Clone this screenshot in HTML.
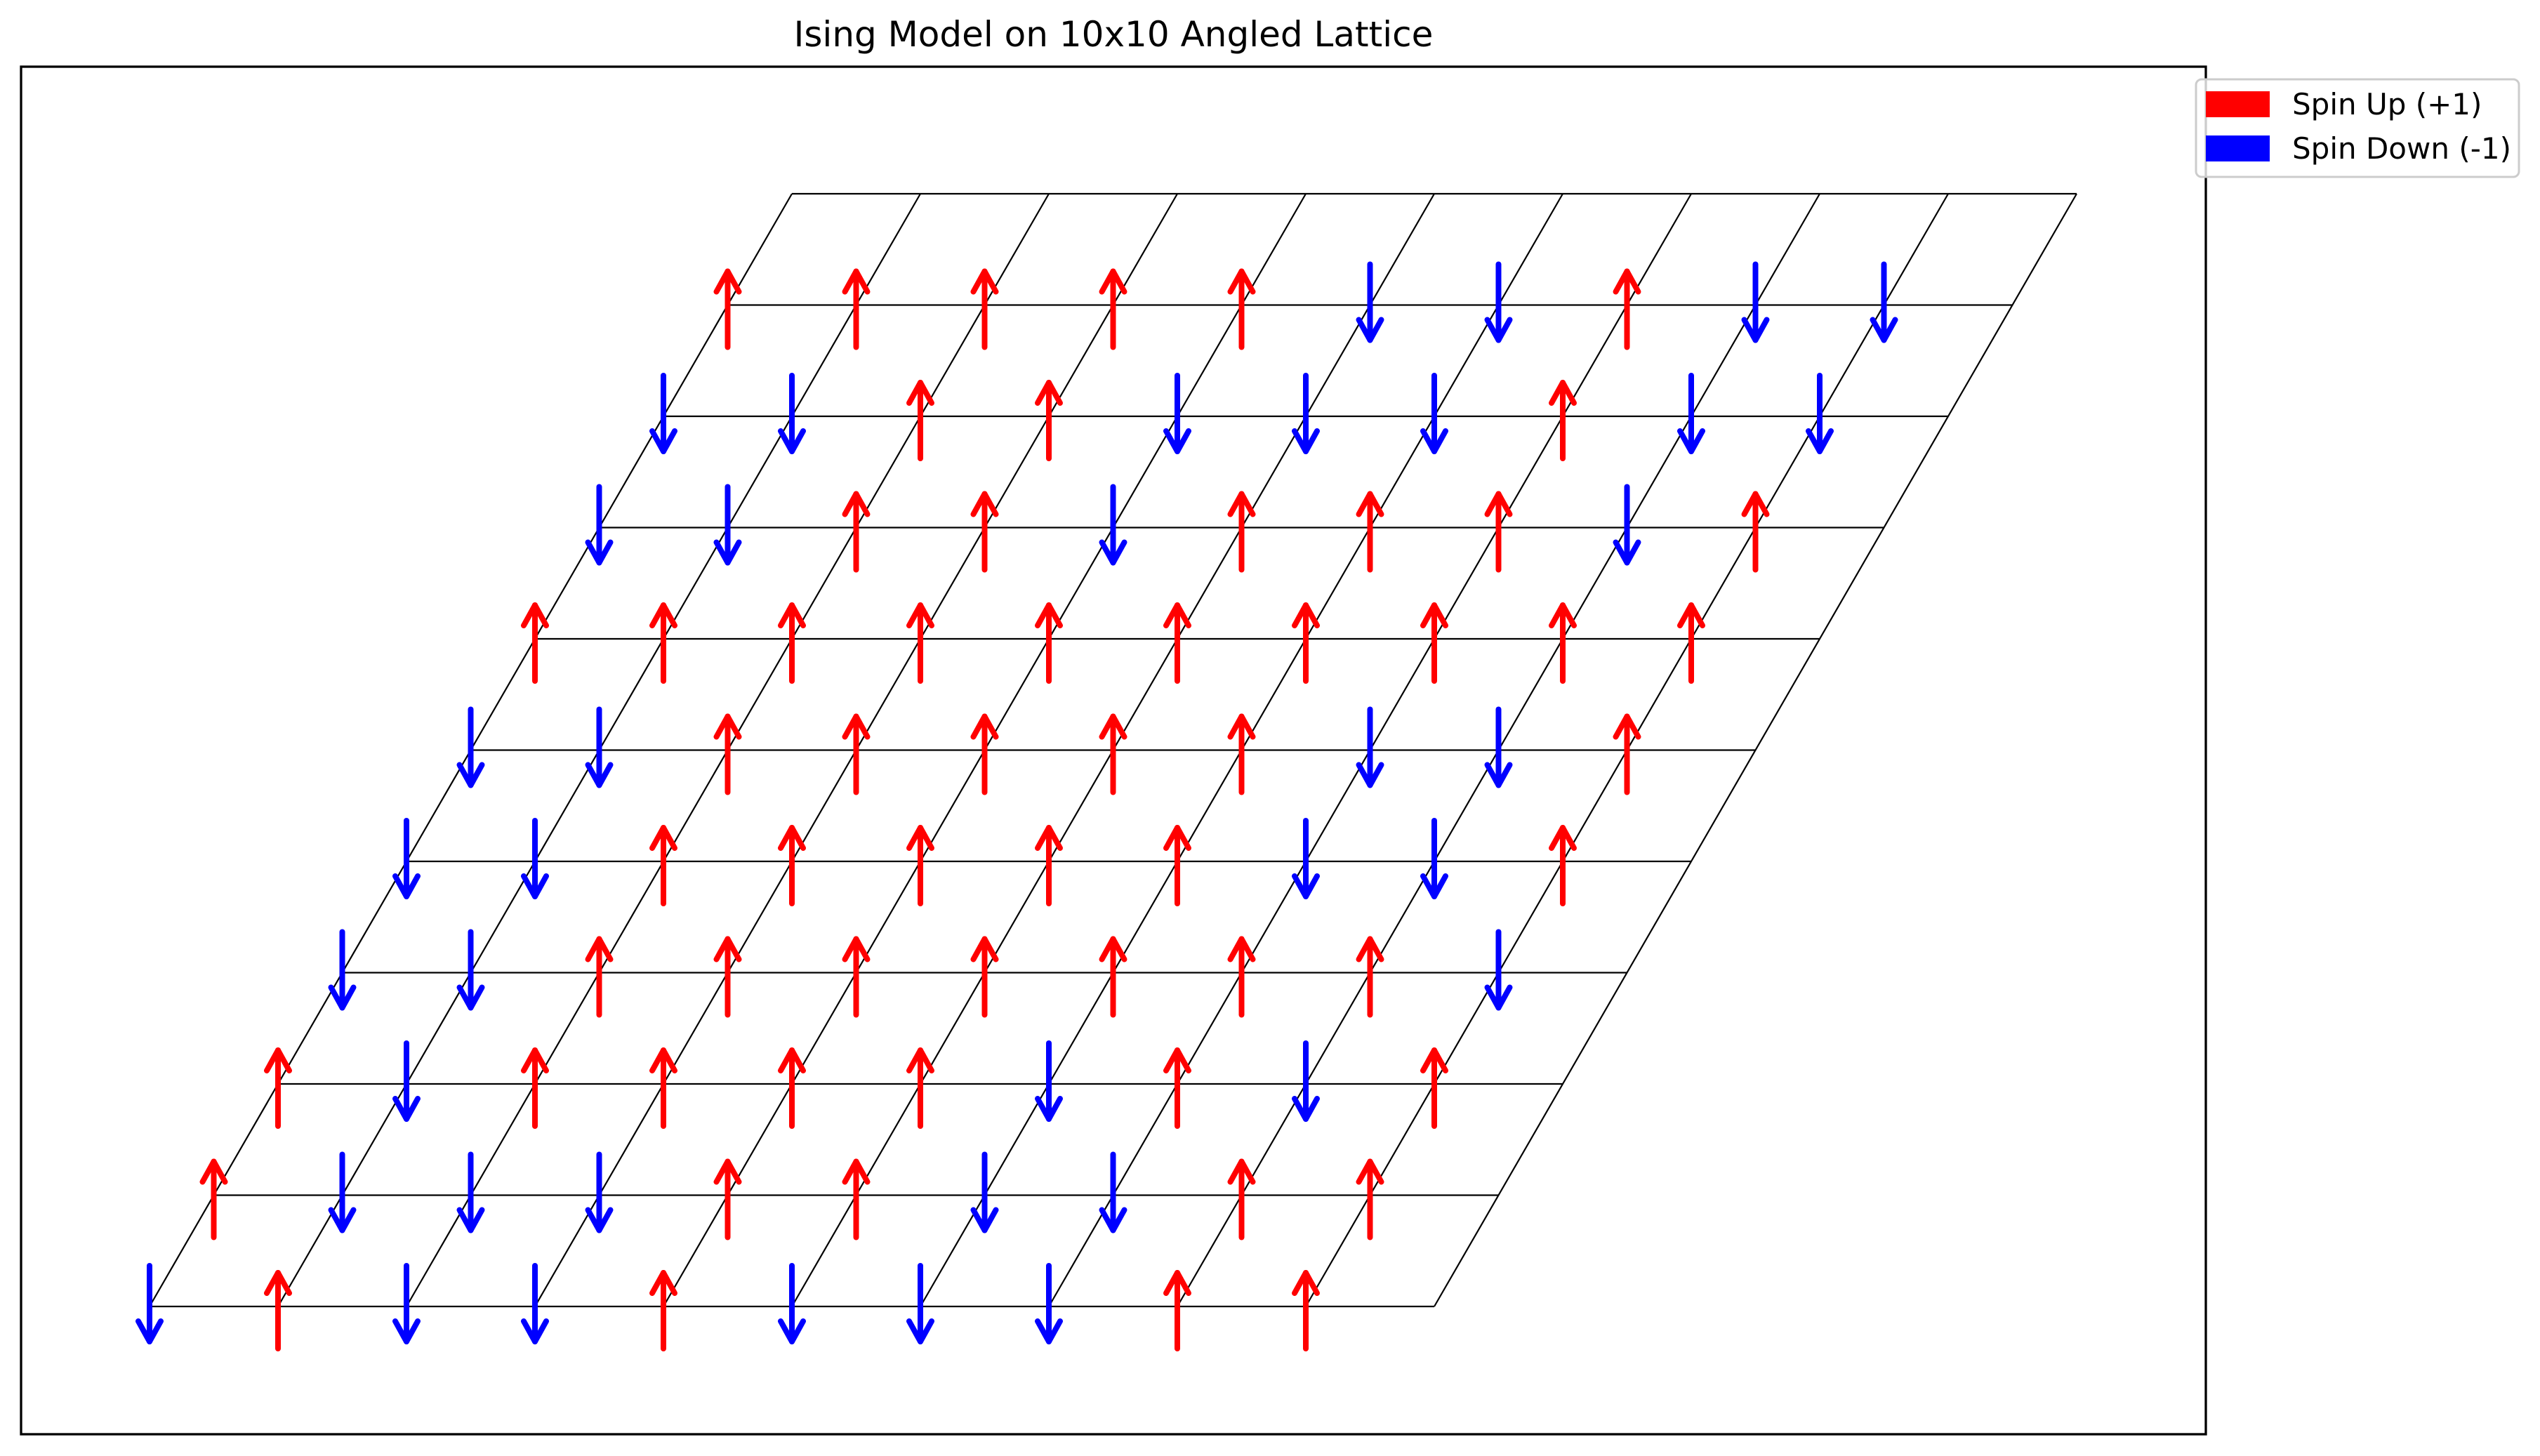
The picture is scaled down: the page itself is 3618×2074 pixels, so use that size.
<!DOCTYPE html>
<html><head><meta charset="utf-8"><style>html,body{margin:0;padding:0;background:#fff}svg{display:block}</style></head>
<body>
<svg id="chart" xmlns="http://www.w3.org/2000/svg" width="3618" height="2074" viewBox="0 0 3618 2074" font-family="'DejaVu Sans','Liberation Sans',sans-serif">
<rect width="3618" height="2074" fill="#fff"/>
<text x="1586" y="66" font-size="50" text-anchor="middle">Ising Model on 10x10 Angled Lattice</text>
<rect x="30" y="95" width="3112" height="1948" fill="none" stroke="#000" stroke-width="3.3"/>
<g id="lattice"></g>
<g id="arrows"></g>
<g>
<rect x="3128" y="113" width="460" height="139" rx="8" fill="#fff" fill-opacity="0.8" stroke="#ccc" stroke-width="3"/>
<rect x="3142" y="130" width="91" height="37" fill="#f00"/>
<text x="3265" y="163" font-size="42">Spin Up (+1)</text>
<rect x="3142" y="193" width="91" height="37" fill="#00f"/>
<text x="3265" y="226" font-size="42">Spin Down (-1)</text>
</g>
</svg>
<script>
// rows from bottom (j=0) to top (j=9), columns i=0..9; 1 = up, -1 = down
const spinRow0 = [-1,1,-1,-1,1,-1,-1,-1,1,1];
const spinRow1 = [1,-1,-1,-1,1,1,-1,-1,1,1];
const spinRow2 = [1,-1,1,1,1,1,-1,1,-1,1];
const spinRow3 = [-1,-1,1,1,1,1,1,1,1,-1];
const spinRow4 = [-1,-1,1,1,1,1,1,-1,-1,1];
const spinRow5 = [-1,-1,1,1,1,1,1,-1,-1,1];
const spinRow6 = [1,1,1,1,1,1,1,1,1,1];
const spinRow7 = [-1,-1,1,1,-1,1,1,1,-1,1];
const spinRow8 = [-1,-1,1,1,-1,-1,-1,1,-1,-1];
const spinRow9 = [1,1,1,1,1,-1,-1,1,-1,-1];
const spins = [spinRow0,spinRow1,spinRow2,spinRow3,spinRow4,spinRow5,spinRow6,spinRow7,spinRow8,spinRow9];
const N = 10;
const NS = 'http://www.w3.org/2000/svg';
function px(i,j){return 213 + 183*i + 91.5*j;}
function py(j){return 1861 - 158.5*j;}
const lat = document.getElementById('lattice');
function line(x1,y1,x2,y2,name){
  const l = document.createElementNS(NS,'line');
  l.setAttribute('x1',x1);l.setAttribute('y1',y1);l.setAttribute('x2',x2);l.setAttribute('y2',y2);
  l.setAttribute('stroke','#000');l.setAttribute('stroke-width','2.2');
  
  
  lat.appendChild(l);
}
for(let j=0;j<=N;j++) line(px(0,j),py(j),px(N,j),py(j),'lattice-row-line');
for(let i=0;i<=N;i++) line(px(i,0),py(0),px(i,N),py(N),'lattice-column-line');
const ag = document.getElementById('arrows');
for(let j=0;j<N;j++){
  for(let i=0;i<N;i++){
    const s = spins[j][i];
    const x = px(i,j), y = py(j);
    const tail = y + (s>0 ? 60 : -58);
    const tip = tail - s*108;
    const col = s>0 ? '#f00' : '#00f';
    const g = document.createElementNS(NS,'g');
    
    
    const shaft = document.createElementNS(NS,'path');
    shaft.setAttribute('d',`M${x},${tail} L${x},${tip}`);
    const head = document.createElementNS(NS,'path');
    head.setAttribute('d',`M${x-16},${tip+s*29} L${x},${tip} L${x+16},${tip+s*29}`);
    for(const p of [shaft,head]){
      p.setAttribute('fill','none');p.setAttribute('stroke',col);p.setAttribute('stroke-width','8');
      p.setAttribute('stroke-linecap','round');p.setAttribute('stroke-linejoin','round');
      g.appendChild(p);
    }
    ag.appendChild(g);
  }
}
</script>
</body></html>
